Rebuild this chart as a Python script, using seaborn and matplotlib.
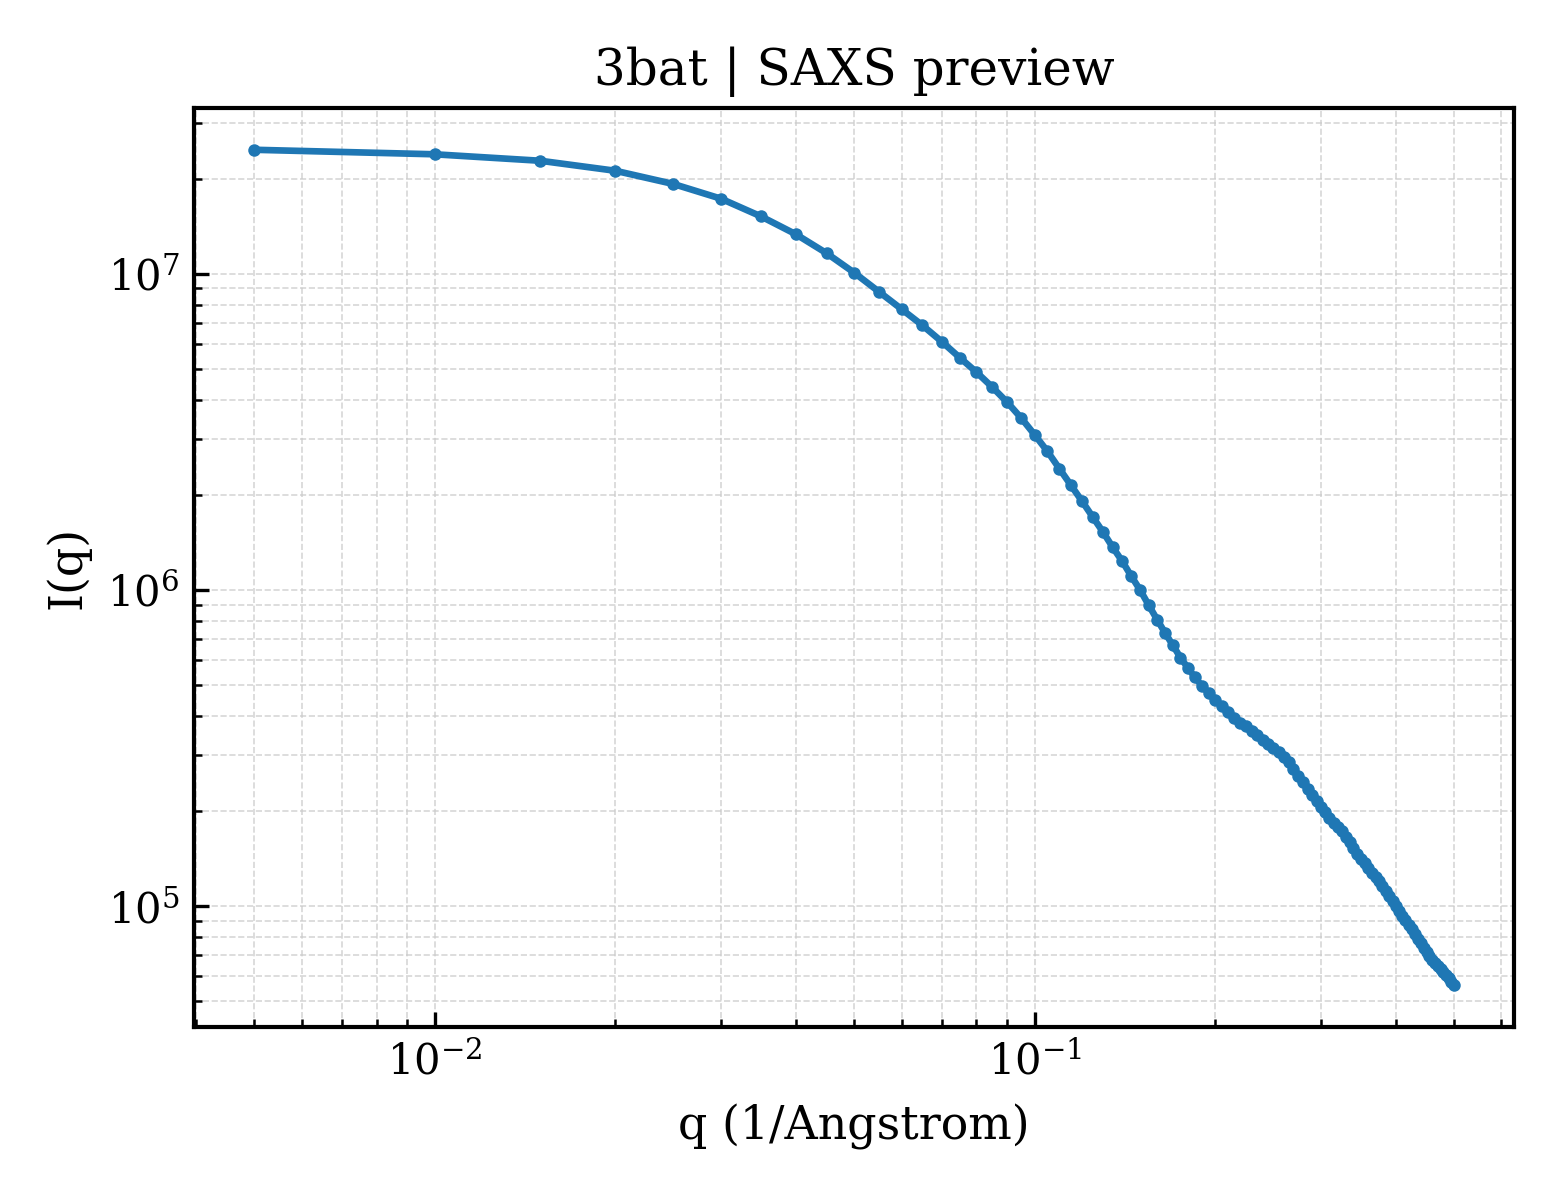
import matplotlib
matplotlib.use("Agg")
import matplotlib.pyplot as plt
import seaborn as sns
import pandas as pd

q_values = [
    0.005, 0.010, 0.015, 0.020, 0.025, 0.030, 0.035, 0.040, 0.045, 0.050,
    0.055, 0.060, 0.065, 0.070, 0.075, 0.080, 0.085, 0.090, 0.095, 0.100,
    0.105, 0.110, 0.115, 0.120, 0.125, 0.130, 0.135, 0.140, 0.145, 0.150,
    0.155, 0.160, 0.165, 0.170, 0.175, 0.180, 0.185, 0.190, 0.195, 0.200,
    0.205, 0.210, 0.215, 0.220, 0.225, 0.230, 0.235, 0.240, 0.245, 0.250,
    0.255, 0.260, 0.265, 0.270, 0.275, 0.280, 0.285, 0.290, 0.295, 0.300,
    0.305, 0.310, 0.315, 0.320, 0.325, 0.330, 0.335, 0.340, 0.345, 0.350,
    0.355, 0.360, 0.365, 0.370, 0.375, 0.380, 0.385, 0.390, 0.395, 0.400,
    0.405, 0.410, 0.415, 0.420, 0.425, 0.430, 0.435, 0.440, 0.445, 0.450,
    0.455, 0.460, 0.465, 0.470, 0.475, 0.480, 0.485, 0.490, 0.495, 0.500,
]

intensity = [
    2.47e7, 2.39e7, 2.28e7, 2.12e7, 1.925e7, 1.73e7, 1.52e7, 1.335e7, 1.163e7, 1.01e7,
    8.79e6, 7.74e6, 6.88e6, 6.11e6, 5.44e6, 4.89e6, 4.385e6, 3.93e6, 3.50e6, 3.10e6,
    2.75e6, 2.42e6, 2.144e6, 1.909e6, 1.703e6, 1.527e6, 1.365e6, 1.233e6, 1.105e6, 9.99e5,
    8.95e5, 8.07e5, 7.32e5, 6.69e5, 6.12e5, 5.68e5, 5.30e5, 4.98e5, 4.73e5, 4.49e5,
    4.31e5, 4.12e5, 3.95e5, 3.79e5, 3.71e5, 3.585e5, 3.47e5, 3.36e5, 3.264e5, 3.17e5,
    3.084e5, 2.97e5, 2.868e5, 2.72e5, 2.58e5, 2.464e5, 2.357e5, 2.256e5, 2.16e5, 2.068e5,
    1.984e5, 1.908e5, 1.84e5, 1.777e5, 1.725e5, 1.657e5, 1.592e5, 1.53e5, 1.462e5, 1.412e5,
    1.366e5, 1.321e5, 1.278e5, 1.238e5, 1.199e5, 1.16e5, 1.118e5, 1.078e5, 1.04e5, 1.003e5,
    9.69e4, 9.35e4, 9.04e4, 8.73e4, 8.45e4, 8.16e4, 7.90e4, 7.64e4, 7.40e4, 7.18e4,
    6.95e4, 6.76e4, 6.60e4, 6.46e4, 6.32e4, 6.20e4, 6.06e4, 5.92e4, 5.78e4, 5.63e4,
]

title_text = "3bat | SAXS preview"
x_label = "q (1/Angstrom)"
y_label = "I(q)"

sns.set_style("white")
plt.rcParams["font.family"] = ["DejaVu Serif"]
plt.rcParams["mathtext.fontset"] = "dejavuserif"
plt.rcParams["xtick.direction"] = "in"
plt.rcParams["ytick.direction"] = "in"
plt.rcParams["text.color"] = "black"
plt.rcParams["axes.labelcolor"] = "black"
plt.rcParams["xtick.color"] = "black"
plt.rcParams["ytick.color"] = "black"
plt.rcParams["xtick.labelcolor"] = "black"
plt.rcParams["ytick.labelcolor"] = "black"

df = pd.DataFrame({"q": q_values, "I": intensity})

fig = plt.figure(figsize=(5.2, 4.0), dpi=300)
ax = fig.add_axes([0.1244, 0.1442, 0.9705 - 0.1244, 0.91 - 0.1442])

sns.lineplot(data=df, x="q", y="I", ax=ax, color="#1f77b4", linewidth=1.6,
             marker="o", markersize=3.0, markeredgewidth=0, estimator=None)

ax.set_xscale("log")
ax.set_yscale("log")
ax.margins(0.05)

ax.grid(True, which="both", linestyle="--", linewidth=0.4, color="#cccccc", alpha=0.8)
ax.set_axisbelow(True)

for s in ax.spines.values():
    s.set_visible(True)
    s.set_color("black")
    s.set_linewidth(1.0)

ax.tick_params(axis="both", which="major", length=3.5, width=0.8, labelsize=10,
               colors="black", top=False, right=False, bottom=True, left=True)
ax.tick_params(axis="both", which="minor", length=2, width=0.6, colors="black",
               top=False, right=False, bottom=True, left=True)

ax.set_title(title_text, fontsize=12, pad=5.5, color="black")
ax.set_xlabel(x_label, fontsize=11, labelpad=5, color="black")
ax.set_ylabel(y_label, fontsize=11, color="black")

fig.savefig("out.png", dpi=300)
